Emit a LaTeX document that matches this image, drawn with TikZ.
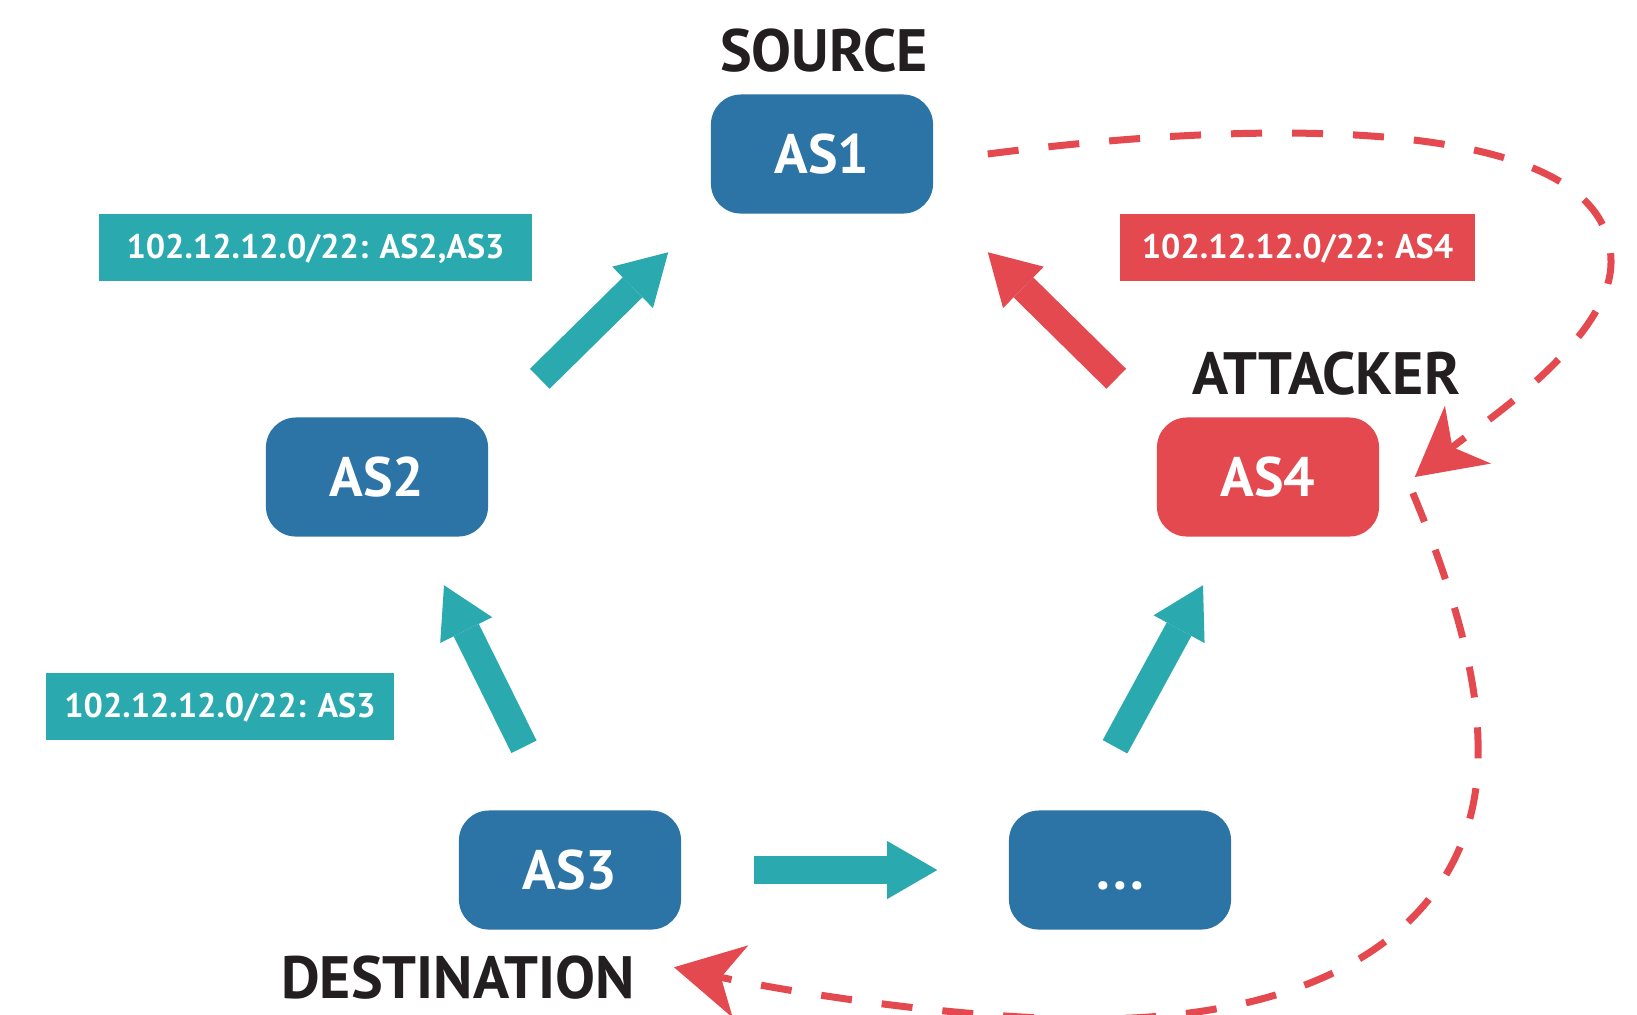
\documentclass[tikz,border=0pt]{standalone}
\usepackage{fontspec}
\setmainfont{PT Sans}
\usetikzlibrary{arrows.meta,calc}
\definecolor{asblue}{RGB}{44,115,166}
\definecolor{asteal}{RGB}{42,169,174}
\definecolor{asred}{RGB}{228,73,79}
\definecolor{asink}{RGB}{35,31,32}
\tikzset{
asbox/.style={rounded corners=0.3cm,minimum width=2.22cm,minimum height=1.19cm,inner sep=0pt,text=white,font=\fontsize{15.8}{16}\selectfont\bfseries,text height=0.39cm,text depth=0pt},
pfxbox/.style={minimum height=0.67cm,inner sep=0pt,text=white,font=\fontsize{9.7}{10}\selectfont\bfseries,text height=0.24cm,text depth=0.02cm},
role/.style={inner sep=0pt,text=asink,font=\fontsize{17}{18}\selectfont\bfseries,text height=0.42cm,text depth=0pt},
fat/.style={line width=0.28cm,-{Triangle[length=0.5cm,width=0.58cm,line width=0pt]}},
hijack/.style={asred,line width=0.07cm,dash pattern=on 0.31cm off 0.3cm,-{Stealth[length=0.68cm,width=0.74cm,inset=0.2cm,line width=0pt]}}
}
\begin{document}
\begin{tikzpicture}[x=0.01cm,y=-0.01cm]
\pgfmathsetmacro{\kw}{1637}
\pgfmathsetmacro{\kh}{1014}
\fill[white](0,0)rectangle(\kw,\kh);
\useasboundingbox(0,0)rectangle(\kw,\kh);
% AS boxes
\foreach \nm/\kx/\ky/\cl/\lb in {as1/822/154/asblue/AS1,as2/377/477/asblue/AS2,as3/570/870/asblue/AS3,as4/1268/477/asred/AS4}{\node[asbox,fill=\cl](\nm) at (\kx,\ky){\lb};}
\node[asbox,fill=asblue](asx) at (1120,870){.\kern1pt.\kern1pt.};
\node[role](src) at (824,50){SOURCE};
\node[role](atk) at (1326,373){ATTACKER};
\node[role](dst) at (458,977){DESTINATION};
% announced prefixes
\node[pfxbox,fill=asteal,minimum width=4.33cm](p2) at (315.5,247.5){102.12.12.0/22: AS2,AS3};
\node[pfxbox,fill=asteal,minimum width=3.48cm](p3) at (220,706.5){102.12.12.0/22: AS3};
\node[pfxbox,fill=asred,minimum width=3.55cm](p4) at (1297.5,247.5){102.12.12.0/22: AS4};
% propagation
\draw[fat,asteal]($(as2.north east)+(51,-38)$)--($(as1.south west)+(-42,38)$);
\draw[fat,asred]($(as4.north west)+(-40,-38)$)--($(as1.south east)+(54,38)$);
\draw[fat,asteal]($(as3.north)+(-46,-63)$)--($(as2.south)+(67,48)$);
\draw[fat,asteal]($(asx.north)+(-5,-63)$)--($(as4.south)+(-65,48)$);
\draw[fat,asteal]($(as3.east)+(72,0)$)--($(asx.west)+(-71,0)$);
% hijacked traffic
\draw[hijack]($(as1.east)+(54,0)$) .. controls (1250,120) and (1611,110) .. (1611,262) .. controls (1611,340) and (1480,425) .. ($(as4.east)+(35,0)$);
\draw[hijack]($(as4.east)+(33,16)$) .. controls (1445,570) and (1480,670) .. (1478,755) .. controls (1478,900) and (1360,1019) .. (1090,1019) .. controls (950,1019) and (780,990) .. ($(as3.south)+(104,37)$);
\end{tikzpicture}
\end{document}
